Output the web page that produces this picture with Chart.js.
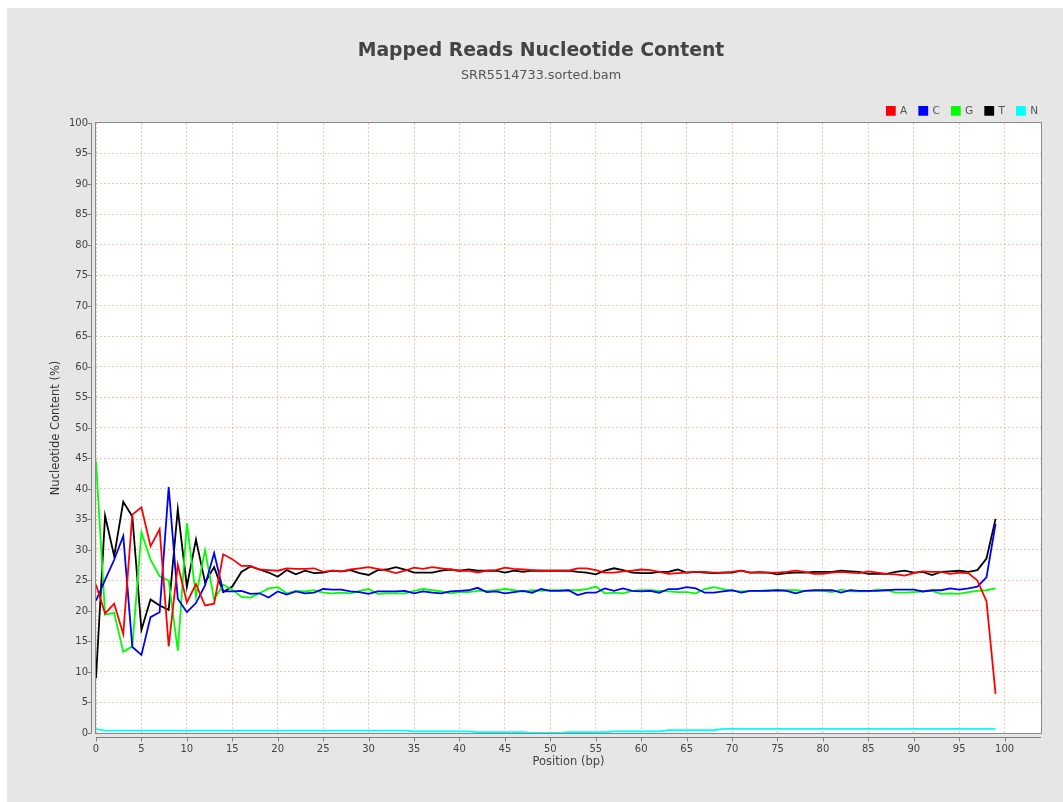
<!DOCTYPE html>
<html>
<head>
<meta charset="utf-8">
<title>Mapped Reads Nucleotide Content</title>
<script src="https://cdn.jsdelivr.net/npm/chart.js@4"></script>
<style>
  html, body { margin: 0; padding: 0; background: #ffffff; }
  #chart { display: block; }
</style>
</head>
<body>
<canvas id="chart" width="1063" height="802"></canvas>
<script>
// positions along the read (bp)
const positions = [
  0, 1, 2, 3, 4, 5, 6, 7, 8, 9, 10, 11, 12, 13, 14, 15, 16, 17, 18, 19,
  20, 21, 22, 23, 24, 25, 26, 27, 28, 29, 30, 31, 32, 33, 34, 35, 36, 37, 38, 39,
  40, 41, 42, 43, 44, 45, 46, 47, 48, 49, 50, 51, 52, 53, 54, 55, 56, 57, 58, 59,
  60, 61, 62, 63, 64, 65, 66, 67, 68, 69, 70, 71, 72, 73, 74, 75, 76, 77, 78, 79,
  80, 81, 82, 83, 84, 85, 86, 87, 88, 89, 90, 91, 92, 93, 94, 95, 96, 97, 98, 99
];

// nucleotide content (%) per position
const contentA = [
  24.3, 19.6, 21.2, 16.2, 35.8, 37.0, 30.6, 33.4, 14.2, 27.6, 21.4, 24.4, 20.9, 21.2, 29.3, 28.5, 27.4, 27.4, 26.8, 26.7,
  26.6, 27.0, 26.9, 26.9, 27.0, 26.4, 26.6, 26.5, 26.8, 27.0, 27.2, 26.9, 26.6, 26.2, 26.6, 27.1, 26.9, 27.2, 27.0, 26.8,
  26.6, 26.6, 26.3, 26.6, 26.7, 27.1, 26.9, 26.8, 26.7, 26.6, 26.6, 26.6, 26.6, 27.0, 27.0, 26.7, 26.3, 26.3, 26.5, 26.6,
  26.8, 26.7, 26.4, 26.1, 26.2, 26.3, 26.4, 26.4, 26.3, 26.3, 26.4, 26.6, 26.3, 26.4, 26.3, 26.3, 26.4, 26.6, 26.4, 26.1,
  26.1, 26.3, 26.4, 26.3, 26.2, 26.5, 26.3, 26.1, 26.0, 25.8, 26.2, 26.5, 26.4, 26.4, 26.1, 26.3, 26.2, 25.0, 21.6, 6.4
];
const contentC = [
  21.7, 25.1, 28.4, 32.3, 14.1, 12.8, 19.0, 19.8, 40.3, 22.0, 19.8, 21.3, 24.2, 29.5, 23.2, 23.2, 23.3, 22.8, 22.9, 22.2,
  23.2, 22.7, 23.2, 22.9, 23.0, 23.6, 23.5, 23.5, 23.2, 23.1, 22.8, 23.2, 23.2, 23.2, 23.3, 22.9, 23.2, 23.0, 22.9, 23.2,
  23.3, 23.4, 23.8, 23.1, 23.2, 22.9, 23.1, 23.3, 23.0, 23.6, 23.3, 23.3, 23.4, 22.6, 23.0, 23.0, 23.7, 23.3, 23.7, 23.3,
  23.2, 23.3, 23.0, 23.6, 23.6, 23.9, 23.7, 23.0, 23.0, 23.2, 23.4, 23.0, 23.3, 23.3, 23.3, 23.4, 23.3, 22.9, 23.3, 23.4,
  23.4, 23.4, 23.0, 23.4, 23.3, 23.3, 23.3, 23.4, 23.5, 23.5, 23.5, 23.2, 23.4, 23.4, 23.7, 23.5, 23.7, 24.0, 25.5, 34.3
];
const contentG = [
  44.5, 19.4, 19.7, 13.3, 14.2, 32.9, 28.4, 25.7, 25.0, 13.5, 34.4, 22.4, 30.0, 21.9, 24.3, 23.5, 22.3, 22.2, 22.9, 23.7,
  23.9, 22.9, 23.3, 23.2, 23.4, 23.0, 22.9, 23.0, 22.9, 23.3, 23.6, 22.8, 22.9, 22.9, 22.9, 23.3, 23.6, 23.4, 23.2, 22.9,
  23.1, 23.1, 23.3, 23.3, 23.4, 23.6, 23.4, 23.2, 23.4, 23.3, 23.4, 23.4, 23.4, 23.4, 23.6, 24.0, 22.9, 23.0, 22.9, 23.3,
  23.4, 23.4, 23.3, 23.2, 23.1, 23.1, 22.9, 23.6, 23.9, 23.6, 23.3, 23.2, 23.3, 23.3, 23.4, 23.4, 23.4, 23.4, 23.3, 23.3,
  23.3, 23.1, 23.5, 23.2, 23.2, 23.2, 23.5, 23.4, 23.0, 23.0, 23.1, 23.2, 23.3, 22.8, 22.9, 22.8, 23.1, 23.3, 23.4, 23.7
];
const contentT = [
  9.0, 35.6, 29.0, 37.9, 35.5, 16.9, 21.9, 20.9, 20.2, 36.7, 24.0, 31.7, 24.7, 27.2, 23.1, 24.0, 26.4, 27.3, 26.8, 26.3,
  25.6, 26.7, 26.0, 26.6, 26.2, 26.3, 26.6, 26.5, 26.7, 26.2, 25.9, 26.7, 26.8, 27.2, 26.8, 26.3, 26.3, 26.3, 26.6, 26.8,
  26.6, 26.8, 26.6, 26.6, 26.6, 26.3, 26.6, 26.4, 26.6, 26.6, 26.6, 26.6, 26.6, 26.4, 26.3, 26.0, 26.6, 27.0, 26.7, 26.3,
  26.2, 26.2, 26.4, 26.4, 26.8, 26.3, 26.4, 26.3, 26.2, 26.3, 26.3, 26.6, 26.3, 26.3, 26.3, 26.0, 26.2, 26.3, 26.3, 26.4,
  26.4, 26.4, 26.6, 26.5, 26.4, 26.1, 26.1, 26.1, 26.4, 26.6, 26.3, 26.4, 25.9, 26.4, 26.5, 26.6, 26.4, 26.7, 28.6, 35.1
];
const contentN = [
  0.65, 0.4, 0.4, 0.4, 0.4, 0.4, 0.4, 0.4, 0.4, 0.4, 0.4, 0.4, 0.4, 0.4, 0.4, 0.4, 0.4, 0.4, 0.4, 0.4,
  0.4, 0.4, 0.4, 0.4, 0.4, 0.4, 0.4, 0.4, 0.4, 0.4, 0.4, 0.4, 0.4, 0.4, 0.4, 0.25, 0.25, 0.25, 0.25, 0.25,
  0.25, 0.25, 0.12, 0.12, 0.12, 0.12, 0.12, 0.12, 0.02, 0.02, 0.02, 0.02, 0.12, 0.12, 0.12, 0.12, 0.12, 0.28, 0.28, 0.28,
  0.28, 0.28, 0.28, 0.45, 0.45, 0.45, 0.45, 0.45, 0.45, 0.68, 0.68, 0.68, 0.68, 0.68, 0.68, 0.68, 0.68, 0.68, 0.68, 0.68,
  0.68, 0.68, 0.68, 0.68, 0.68, 0.68, 0.68, 0.68, 0.68, 0.68, 0.68, 0.68, 0.68, 0.68, 0.68, 0.68, 0.68, 0.68, 0.68, 0.68
];

const seriesNames = ['A', 'C', 'G', 'T', 'N'];
const seriesColors = ['#ff0000', '#0000ff', '#00ff00', '#000000', '#00ffff'];
const seriesValues = [contentA, contentC, contentG, contentT, contentN];

const FONT = "'DejaVu Sans', Verdana, sans-serif";

// fondo del panel, area blanca, marco y ejes desplazados al estilo JFreeChart
const plotFrame = {
    id: 'plotFrame',
    beforeDraw(chart) {
        const { ctx, chartArea: a } = chart;
        ctx.save();
        ctx.fillStyle = '#ffffff';
        ctx.fillRect(0, 0, chart.width, chart.height);
        ctx.fillStyle = '#e6e6e6';
        ctx.fillRect(7, 8, chart.width - 7, chart.height - 8);
        ctx.fillStyle = '#ffffff';
        ctx.fillRect(a.left, a.top, a.right - a.left, a.bottom - a.top);
        ctx.restore();
    },
    afterDraw(chart) {
        const { ctx, chartArea: a, scales } = chart;
        ctx.save();
        ctx.lineWidth = 1;
        ctx.strokeStyle = '#8a8a8a';
        ctx.strokeRect(Math.round(a.left) - 0.5, Math.round(a.top) - 0.5,
            Math.round(a.right - a.left) + 1, Math.round(a.bottom - a.top) + 1);

        const axisX = Math.round(a.left) - 4.5;
        const axisY = Math.round(a.bottom) + 4.5;
        ctx.strokeStyle = '#808080';
        ctx.beginPath();
        ctx.moveTo(axisX, a.top);
        ctx.lineTo(axisX, a.bottom);
        ctx.moveTo(a.left, axisY);
        ctx.lineTo(a.right, axisY);
        scales.y.ticks.forEach(t => {
            const y = Math.round(scales.y.getPixelForValue(t.value)) + 0.5;
            ctx.moveTo(axisX - 4, y);
            ctx.lineTo(axisX, y);
        });
        scales.x.ticks.forEach(t => {
            const x = Math.round(scales.x.getPixelForValue(t.value)) + 0.5;
            ctx.moveTo(x, axisY);
            ctx.lineTo(x, axisY + 4);
        });
        ctx.stroke();
        ctx.restore();
    }
};

const datasets = seriesNames.map((name, i) => ({
    label: name,
    data: positions.map((p, j) => ({ x: p, y: seriesValues[i][j] })),
    borderColor: seriesColors[i],
    backgroundColor: seriesColors[i],
    borderWidth: 1.8,
    pointRadius: 0,
    pointHoverRadius: 0,
    tension: 0,
    fill: false
}));

const gridColor = 'rgba(228, 165, 120, 0.6)';

new Chart(document.getElementById('chart'), {
    type: 'line',
    data: { datasets: datasets },
    options: {
        responsive: false,
        devicePixelRatio: 1,
        animation: false,
        events: [],
        layout: { padding: { left: 32, right: 13, top: 0, bottom: 0 } },
        plugins: {
            title: {
                display: true,
                text: 'Mapped Reads Nucleotide Content',
                color: '#444444',
                font: { family: FONT, size: 18.8, weight: 'bold' },
                padding: { top: 39.7, bottom: 0 }
            },
            subtitle: {
                display: true,
                text: 'SRR5514733.sorted.bam',
                color: '#555555',
                font: { family: FONT, size: 12.8 },
                padding: { top: 6, bottom: 10.09 }
            },
            legend: {
                display: true,
                position: 'top',
                align: 'end',
                maxHeight: 29.25,
                labels: {
                    boxWidth: 8,
                    boxHeight: 8,
                    padding: 12,
                    color: '#555555',
                    font: { family: FONT, size: 10.5 }
                }
            },
            tooltip: { enabled: false }
        },
        scales: {
            x: {
                type: 'linear',
                min: 0,
                max: 104,
                afterFit(scale) { scale.height = 69; },
                ticks: {
                    stepSize: 5,
                    includeBounds: false,
                    autoSkip: false,
                    maxRotation: 0,
                    padding: 10,
                    color: '#444444',
                    font: { family: FONT, size: 10 }
                },
                grid: { color: gridColor, drawTicks: false, lineWidth: 1 },
                border: { display: false, dash: [2, 2] },
                title: {
                    display: true,
                    text: 'Position (bp)',
                    color: '#444444',
                    font: { family: FONT, size: 11.5 },
                    padding: { top: 0, bottom: 33 }
                }
            },
            y: {
                type: 'linear',
                min: 0,
                max: 100,
                afterFit(scale) { scale.width = 64; },
                ticks: {
                    stepSize: 5,
                    autoSkip: false,
                    padding: 8,
                    color: '#444444',
                    font: { family: FONT, size: 10 }
                },
                grid: { color: gridColor, drawTicks: false, lineWidth: 1 },
                border: { display: false, dash: [2, 2] },
                title: {
                    display: true,
                    text: 'Nucleotide Content (%)',
                    color: '#333333',
                    font: { family: FONT, size: 11.5 },
                    padding: { top: 17.1, bottom: 0 }
                }
            },
            rightGap: {
                type: 'linear',
                position: 'right',
                display: true,
                afterFit(scale) { scale.width = 9; },
                ticks: { display: false },
                grid: { display: false, drawTicks: false },
                border: { display: false }
            }
        }
    },
    plugins: [plotFrame]
});
</script>
</body>
</html>
